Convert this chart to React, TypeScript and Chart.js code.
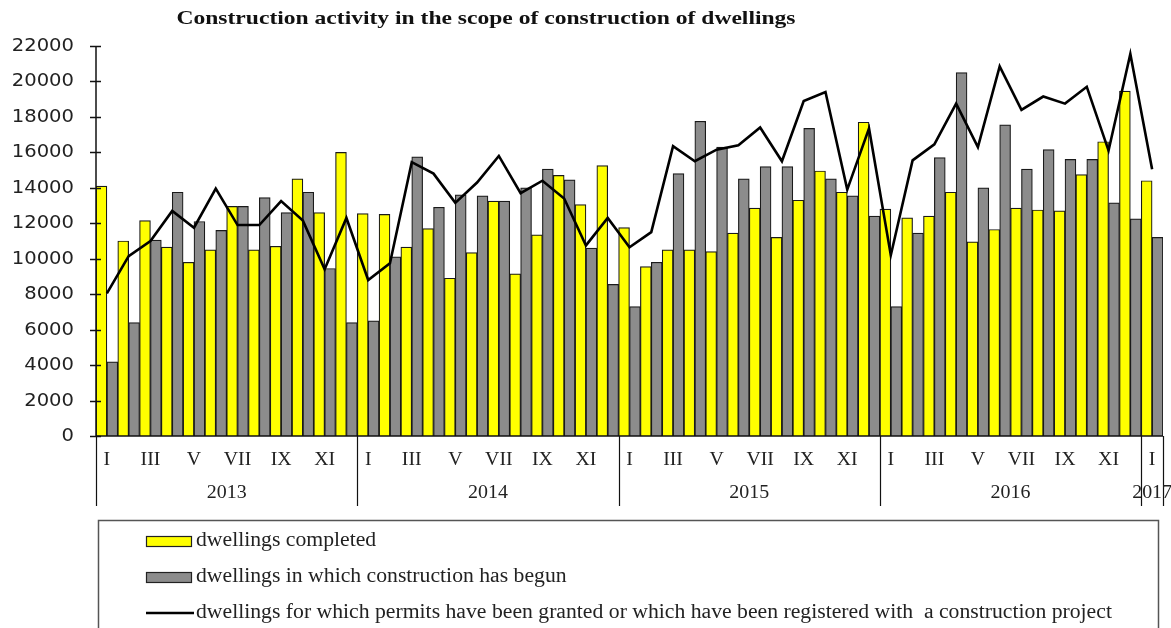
import React, { useEffect, useRef } from "react";
import { Chart, registerables } from "chart.js";

Chart.register(...registerables);

const titleText = "Construction activity in the scope of construction of dwellings";
const romanMonths = ["I", "II", "III", "IV", "V", "VI", "VII", "VIII", "IX", "X", "XI", "XII"];
const shownMonthTicks = ["I", "III", "V", "VII", "IX", "XI"];
const years = ["2013", "2014", "2015", "2016", "2017"];
const monthsInYear = [12, 12, 12, 12, 1];
const yTicks = [0, 2000, 4000, 6000, 8000, 10000, 12000, 14000, 16000, 18000, 20000, 22000];

const completedLabel = "dwellings completed";
const begunLabel = "dwellings in which construction has begun";
const permitsLabel =
  "dwellings for which permits have been granted or which have been registered with  a construction project";

// Jan 2013 .. Jan 2017
const completed = [
  14100, 11000, 12150, 10650, 9800, 10500, 12950, 10500, 10700, 14500, 12600, 16000,
  12550, 12500, 10650, 11700, 8900, 10350, 13250, 9150, 11350, 14700, 13050, 15250,
  11750, 9550, 10500, 10500, 10400, 11450, 12850, 11200, 13300, 14950, 13750, 17700,
  12800, 12300, 12400, 13750, 10950, 11650, 12850, 12750, 12700, 14750, 16600, 19450,
  14400,
];
const begun = [
  4180, 6400, 11050, 13750, 12100, 11600, 12950, 13450, 12600, 13750, 9450, 6400,
  6500, 10100, 15750, 12900, 13600, 13550, 13250, 14000, 15050, 14450, 10600, 8550,
  7300, 9800, 14800, 17750, 16300, 14500, 15200, 15200, 17350, 14500, 13550, 12400,
  7300, 11450, 15700, 20500, 14000, 17550, 15050, 16150, 15600, 15600, 13150, 12250,
  11200,
];
const permits = [
  8050, 10150, 11000, 12700, 11750, 13950, 11900, 11900, 13250, 12150, 9400, 12300,
  8800, 9750, 15450, 14800, 13150, 14300, 15800, 13700, 14400, 13400, 10750, 12300,
  10650, 11500, 16350, 15500, 16150, 16400, 17400, 15500, 18900, 19400, 13900, 17350,
  10200, 15550, 16450, 18750, 16300, 20850, 18400, 19150, 18750, 19700, 16100, 21550,
  15050,
];

const categories: string[] = [];
const categoryMonth: string[] = [];
years.forEach((yr, yi) => {
  for (let m = 0; m < monthsInYear[yi]; m++) {
    categories.push(romanMonths[m] + " " + yr);
    categoryMonth.push(romanMonths[m]);
  }
});

const YELLOW = "#FFFF00";
const GRAY = "#8C8C8C";
const BAR_BORDER = "#1a1a1a";

function textScaled(ctx: CanvasRenderingContext2D, text: string, x: number, y: number, sx: number) {
  ctx.save();
  ctx.translate(x, y);
  ctx.scale(sx, 1);
  ctx.fillText(text, 0, 0);
  ctx.restore();
}

const axesPlugin = {
  id: "customAxes",
  afterDraw(chart: any) {
    const ctx: CanvasRenderingContext2D = chart.ctx;
    const xs = chart.scales.x;
    const ys = chart.scales.y;
    const area = chart.chartArea;
    const half = (xs.getPixelForValue(1) - xs.getPixelForValue(0)) / 2;
    ctx.save();

    // title
    ctx.fillStyle = "#111";
    ctx.font = "bold 19px 'Liberation Serif', serif";
    ctx.textAlign = "center";
    ctx.textBaseline = "middle";
    textScaled(ctx, titleText, 486, 19, 1.24);

    // y axis
    ctx.strokeStyle = "#111";
    ctx.lineWidth = 1.5;
    ctx.beginPath();
    ctx.moveTo(area.left, ys.getPixelForValue(yTicks[yTicks.length - 1]));
    ctx.lineTo(area.left, ys.getPixelForValue(0));
    ctx.stroke();
    ctx.font = "17px 'DejaVu Sans', sans-serif";
    ctx.textAlign = "right";
    ctx.fillStyle = "#222";
    yTicks.forEach((v) => {
      const py = Math.round(ys.getPixelForValue(v)) + 0.5;
      ctx.beginPath();
      ctx.moveTo(area.left - 6, py);
      ctx.lineTo(area.left + 5, py);
      ctx.stroke();
      textScaled(ctx, String(v), area.left - 22, py, 1.15);
    });

    // x axis
    const y0 = ys.getPixelForValue(0);
    ctx.beginPath();
    ctx.moveTo(area.left, y0);
    ctx.lineTo(xs.getPixelForValue(categories.length - 1) + half, y0);
    ctx.stroke();

    // month labels
    ctx.font = "18px 'Liberation Serif', serif";
    ctx.textAlign = "center";
    ctx.fillStyle = "#222";
    categories.forEach((_, i) => {
      const m = categoryMonth[i];
      if (shownMonthTicks.includes(m)) {
        textScaled(ctx, m, xs.getPixelForValue(i), y0 + 24, 1.1);
      }
    });

    // year separators and labels
    ctx.lineWidth = 1.2;
    let start = 0;
    years.forEach((yr, yi) => {
      const end = start + monthsInYear[yi] - 1;
      const left = xs.getPixelForValue(start) - half;
      const right = xs.getPixelForValue(end) + half;
      ctx.beginPath();
      ctx.moveTo(Math.round(left) + 0.5, y0);
      ctx.lineTo(Math.round(left) + 0.5, y0 + 70);
      ctx.stroke();
      if (yi === years.length - 1) {
        ctx.beginPath();
        ctx.moveTo(Math.round(right) + 0.5, y0);
        ctx.lineTo(Math.round(right) + 0.5, y0 + 70);
        ctx.stroke();
      }
      ctx.font = "19px 'Liberation Serif', serif";
      textScaled(ctx, yr, (left + right) / 2, y0 + 57, 1.05);
      start = end + 1;
    });

    // legend box
    ctx.strokeStyle = "#555";
    ctx.lineWidth = 1.5;
    ctx.strokeRect(98.5, 520.5, 1060, 130);
    const items = [
      { label: completedLabel, kind: "box", color: YELLOW, y: 541 },
      { label: begunLabel, kind: "box", color: GRAY, y: 577 },
      { label: permitsLabel, kind: "line", color: "#000", y: 613 },
    ];
    ctx.font = "20px 'Liberation Serif', serif";
    ctx.textAlign = "left";
    items.forEach((it) => {
      if (it.kind === "box") {
        ctx.fillStyle = it.color;
        ctx.fillRect(146, it.y - 5, 45, 10);
        ctx.strokeStyle = "#222";
        ctx.lineWidth = 1.2;
        ctx.strokeRect(146.5, it.y - 4.5, 45, 10);
      } else {
        ctx.strokeStyle = "#000";
        ctx.lineWidth = 2.5;
        ctx.beginPath();
        ctx.moveTo(146, it.y);
        ctx.lineTo(194, it.y);
        ctx.stroke();
      }
      ctx.fillStyle = "#222";
      textScaled(ctx, it.label, 196, it.y, 1.085);
    });

    ctx.restore();
  },
};

export default function App() {
  const canvasRef = useRef<HTMLCanvasElement | null>(null);

  useEffect(() => {
    document.body.style.margin = "0";
    const canvas = canvasRef.current;
    if (!canvas) return;
    const chart = new Chart(canvas, {
      type: "bar",
      data: {
        labels: categories,
        datasets: [
          {
            type: "line",
            label: permitsLabel,
            data: permits,
            borderColor: "#000",
            borderWidth: 2.6,
            pointRadius: 0,
            tension: 0,
            fill: false,
            order: 0,
          } as any,
          {
            label: completedLabel,
            data: completed,
            backgroundColor: YELLOW,
            borderColor: BAR_BORDER,
            borderWidth: 1.2,
            order: 1,
          },
          {
            label: begunLabel,
            data: begun,
            backgroundColor: GRAY,
            borderColor: BAR_BORDER,
            borderWidth: 1.2,
            order: 1,
          },
        ],
      },
      options: {
        responsive: false,
        animation: false,
        layout: { padding: { left: 96, right: 8, top: 46, bottom: 192 } },
        datasets: { bar: { categoryPercentage: 1, barPercentage: 1 } },
        scales: {
          x: { display: false, offset: true },
          y: { display: false, min: 0, max: 22000 },
        },
        plugins: {
          legend: { display: false },
          tooltip: { enabled: false },
          title: { display: false },
        },
      },
      plugins: [axesPlugin],
    });
    return () => chart.destroy();
  }, []);

  return (
    <div style={{ position: "absolute", left: 0, top: 0, width: 1171, height: 628, background: "#fff" }}>
      <canvas ref={canvasRef} width={1171} height={628} style={{ display: "block" }} />
    </div>
  );
}
